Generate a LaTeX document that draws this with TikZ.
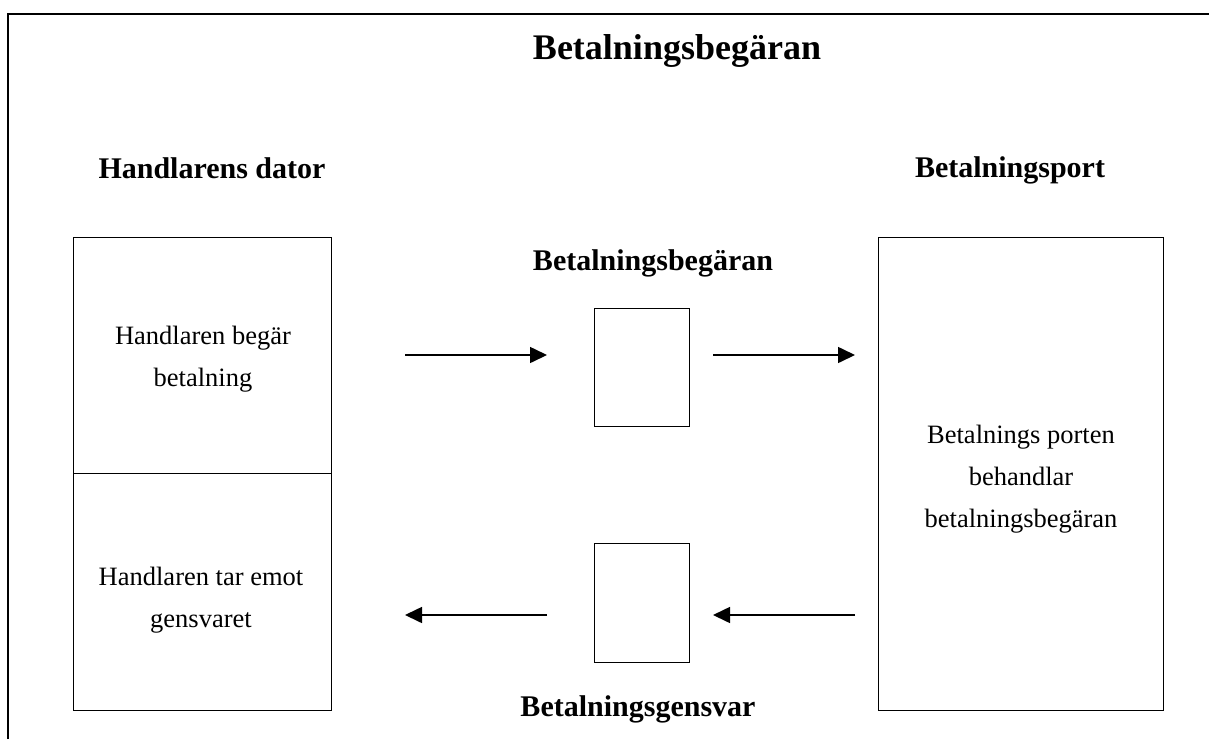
\documentclass[tikz,border=0pt]{standalone}
\usepackage{fontspec}
\setmainfont{Liberation Serif}
\usetikzlibrary{arrows.meta}
\begin{document}
\begin{tikzpicture}[x=1pt,y=-1pt,
  box/.style={draw, line width=1pt, anchor=north west, inner sep=0pt},
  body/.style={align=center, font=\fontsize{26.5}{42}\selectfont},
  head/.style={anchor=base, font=\fontsize{30}{34}\selectfont\bfseries},
  arr/.style={line width=1.6pt, -{Triangle[length=17pt,width=16pt]}}]
\useasboundingbox (0,0) rectangle (1209,739);
% outer frame (top and left edges)
\draw[line width=2pt] (8,739) -- (8,14) -- (1210,14);
% title
\node[anchor=base, font=\fontsize{36}{40}\selectfont\bfseries] (title) at (677,59) {Betalningsbegäran};
% column headings
\node[head] (merchant) at (212,178) {Handlarens dator};
\node[head] (gateway) at (1010,177) {Betalningsport};
% merchant computer: two stacked boxes
\node[box, minimum width=258pt, minimum height=236pt] (ubox) at (73,237) {};
\node[box, minimum width=258pt, minimum height=237pt] (lbox) at (73,473) {};
\node[body] (utext) at (203,359) {Handlaren begär\\betalning};
\node[body] (ltext) at (201,600) {Handlaren tar emot\\gensvaret};
% payment gateway
\node[box, minimum width=285pt, minimum height=473pt] (gbox) at (878,237) {};
\node[body] (gtext) at (1021,479) {Betalnings porten\\behandlar\\betalningsbegäran};
% request and response documents
\node[box, minimum width=95pt, minimum height=118pt] (req) at (594,308) {};
\node[box, minimum width=95pt, minimum height=119pt] (resp) at (594,543) {};
\node[head] (reqlabel) at (653,270) {Betalningsbegäran};
\node[head] (resplabel) at (638,716) {Betalningsgensvar};
% arrow end points
\coordinate (a1s) at (405,355); \coordinate (a1e) at (547,355);
\coordinate (a2s) at (713,355); \coordinate (a2e) at (855,355);
\coordinate (a3s) at (855,615); \coordinate (a3e) at (713,615);
\coordinate (a4s) at (547,615); \coordinate (a4e) at (405,615);
\draw[arr] (a1s) -- (a1e);
\draw[arr] (a2s) -- (a2e);
\draw[arr] (a3s) -- (a3e);
\draw[arr] (a4s) -- (a4e);
\end{tikzpicture}
\end{document}
